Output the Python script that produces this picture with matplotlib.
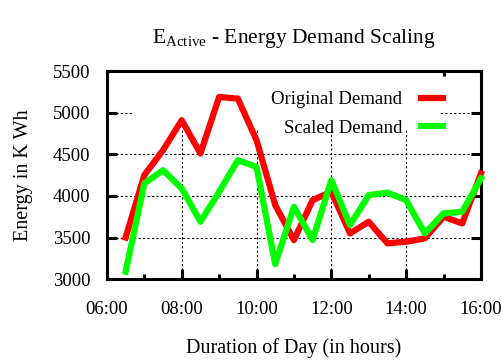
import matplotlib
matplotlib.use("Agg")
import matplotlib.pyplot as plt
from matplotlib.patches import Rectangle
from matplotlib.ticker import MultipleLocator, FuncFormatter

plt.rcParams['font.family'] = ['Liberation Serif', 'DejaVu Serif']
plt.rcParams['mathtext.fontset'] = 'custom'
plt.rcParams['mathtext.rm'] = 'Liberation Serif'

# half-hour slots from 06:30 to 16:00
hours = [6.5, 7.0, 7.5, 8.0, 8.5, 9.0, 9.5, 10.0, 10.5, 11.0, 11.5, 12.0,
         12.5, 13.0, 13.5, 14.0, 14.5, 15.0, 15.5, 16.0]
original = [3500, 4250, 4550, 4910, 4510, 5190, 5170, 4670, 3890, 3470, 3950, 4050,
            3550, 3690, 3430, 3450, 3490, 3750, 3670, 4270]
scaled = [3090, 4150, 4310, 4090, 3690, 4050, 4430, 4350, 3180, 3870, 3470, 4190,
          3650, 4010, 4040, 3950, 3550, 3790, 3810, 4210]

fig = plt.figure(figsize=(5.02, 3.63), dpi=100)
ax = fig.add_axes([0.213, 0.231, 0.745, 0.573])

ax.set_xlim(6, 16)
ax.set_ylim(3000, 5500)
ax.set_axisbelow(True)
ax.grid(True, which='major', color='black', linestyle=(0, (2, 2)), linewidth=0.8)

# opaque key area hides the grid behind it
ax.add_patch(Rectangle((0.07, 0.72), 0.82, 0.28, transform=ax.transAxes,
                       facecolor='white', edgecolor='none', zorder=1))

ax.plot(hours, original, color='#ff0000', lw=4.5, label='Original Demand',
        clip_on=False, zorder=3)
ax.plot(hours, scaled, color='#00ff00', lw=4.5, label='Scaled Demand',
        clip_on=False, zorder=3)

ax.xaxis.set_major_locator(MultipleLocator(2))
ax.xaxis.set_minor_locator(MultipleLocator(1))
ax.xaxis.set_major_formatter(FuncFormatter(lambda v, p: f"{int(v):02d}:00"))
ax.yaxis.set_major_locator(MultipleLocator(500))

ax.tick_params(which='both', direction='in', top=True, right=True, width=2.2,
               labelsize=13.5)
ax.tick_params(which='major', length=7)
ax.tick_params(which='minor', length=3.5)
ax.tick_params(axis='x', pad=16)
ax.tick_params(axis='y', pad=12)
for s in ax.spines.values():
    s.set_linewidth(2.2)

ax.set_title(r'E$_{\mathrm{Active}}$ - Energy Demand Scaling', fontsize=15.5, pad=20)
ax.set_xlabel('Duration of Day (in hours)', fontsize=14.5, labelpad=14)
ax.set_ylabel('Energy in K Wh', fontsize=14.5, labelpad=14)

leg = ax.legend(loc='upper right', bbox_to_anchor=(0.945, 0.985), frameon=False,
                fontsize=13.5, markerfirst=False, handlelength=1.2,
                handletextpad=1.0, labelspacing=0.6)
for t in leg.get_texts():
    t.set_ha('right')

fig.savefig('out.png', dpi=100)
